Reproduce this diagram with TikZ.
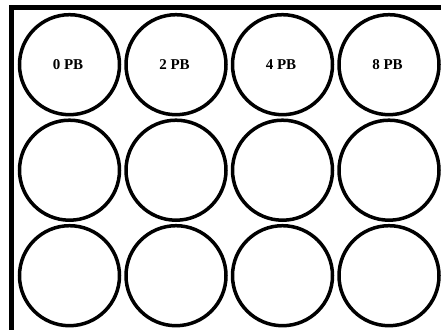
\documentclass[tikz,border=0pt]{standalone}
\usepackage{fontspec}
\setmainfont{Liberation Serif}
\begin{document}
\begin{tikzpicture}[x=1pt,y=-1pt,
  well/.style={draw=black,line width=3.5pt,circle,minimum size=100pt,inner sep=0pt},
  lbl/.style={font=\fontsize{15}{17}\selectfont\bfseries,inner sep=0pt},
  frame/.style={line width=5pt,black}]
\useasboundingbox (0,0) rectangle (441,329);
\coordinate (fbl) at (11.5,340);
\coordinate (ftl) at (11.5,8);
\coordinate (ftr) at (450,8);
\draw[frame] (fbl) -- (ftl) -- (ftr);
\foreach \c/\x in {1/69.5,2/176,3/282.5,4/389}{
  \foreach \r/\y in {1/64.7,2/170.2,3/275.7}{
    \node[well] (w\r\c) at (\x,\y) {};
  }
}
\node[lbl] (l1) at ([xshift=-1.5pt]w11.center) {0 PB};
\node[lbl] (l2) at ([xshift=-1.5pt]w12.center) {2 PB};
\node[lbl] (l3) at ([xshift=-1.5pt]w13.center) {4 PB};
\node[lbl] (l4) at ([xshift=-1.5pt]w14.center) {8 PB};
\end{tikzpicture}
\end{document}
